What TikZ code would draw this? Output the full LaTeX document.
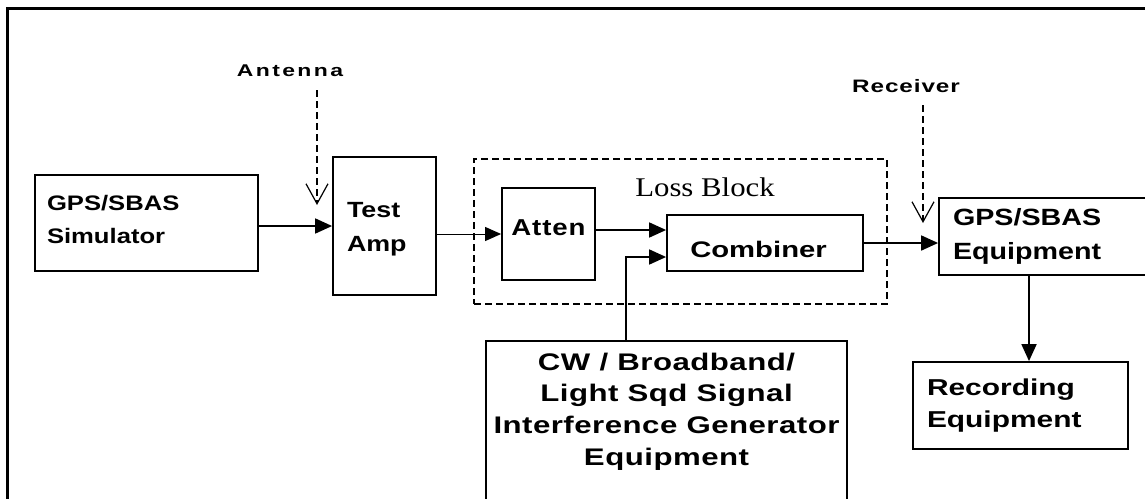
\documentclass[tikz,border=0pt]{standalone}
\usepackage{fontspec}
\setmainfont{Liberation Serif}
\newfontfamily\serifS{Liberation Serif}[FakeStretch=1.14]
\newfontfamily\sA{Liberation Sans}[FakeStretch=1.22]
\newfontfamily\sB{Liberation Sans}[FakeStretch=1.3]
\newfontfamily\sE{Liberation Sans}[FakeStretch=1.3, LetterSpace=2]
\newfontfamily\sD{Liberation Sans}[FakeStretch=1.2, LetterSpace=4]
\newfontfamily\sC{Liberation Sans}[FakeStretch=1.35, LetterSpace=14]
\newfontfamily\sF{Liberation Sans}[FakeStretch=1.35, LetterSpace=5]
\usetikzlibrary{arrows.meta,calc}
\begin{document}
\begin{tikzpicture}[x=1pt,y=-1pt,
  box/.style={draw, line width=1.8pt, inner sep=0pt},
  conn/.style={line width=1.8pt, -{Triangle[length=17pt,width=15pt]}},
  thinconn/.style={line width=1pt, -{Triangle[length=16pt,width=14pt]}},
  dconn/.style={line width=1.2pt, dash pattern=on 7pt off 4pt, -{Straight Barb[length=20pt,width=22pt]}},
  lossstyle/.style={draw, line width=1.4pt, dash pattern=on 7pt off 4pt, inner sep=0pt}]
\useasboundingbox (0,0) rectangle (1145,498);
\clip (0,0) rectangle (1145,498);
\draw[line width=3pt] (7.5,8.5) rectangle (1175,530);

% labels above
\node[font=\sC\bfseries\fontsize{17}{20}\selectfont] (antlbl) at (290,71) {Antenna};
\node[font=\sF\bfseries\fontsize{18}{20}\selectfont] (reclbl) at (906,86.5) {Receiver};

% loss block
\node[lossstyle, minimum width=413pt, minimum height=145pt] (loss) at (680.5,231.5) {};
\node[font=\serifS\fontsize{27}{30}\selectfont] (losslbl) at (705,187) {Loss Block};

% boxes
\node[box, minimum width=223pt, minimum height=96pt, text width=199pt, align=left,
      font=\sA\bfseries\fontsize{21}{33}\selectfont] (sim) at (146.5,223)
      {GPS/SBAS\\Simulator\rule[-8pt]{0pt}{0pt}};
\node[box, minimum width=103pt, minimum height=138pt, text width=75pt, align=left,
      font=\sA\bfseries\fontsize{22}{34}\selectfont] (amp) at (384.5,226)
      {\rule{0pt}{22pt}Test\\Amp};
\node[box, minimum width=93pt, minimum height=92pt, text height=10pt, text depth=8pt,
      font=\sD\bfseries\fontsize{23}{26}\selectfont] (atten) at (548.5,234) {Atten};
\node[box, minimum width=196pt, minimum height=56pt, text height=28pt, text depth=0pt,
      font=\sB\bfseries\fontsize{22.5}{26}\selectfont] (comb) at (765,243) {\hspace*{-13pt}Combiner};
\node[box, minimum width=221pt, minimum height=77pt, text width=193pt, align=left,
      font=\sA\bfseries\fontsize{23.5}{34}\selectfont] (equip) at (1049.5,236.5)
      {GPS/SBAS\\Equipment};
\node[box, minimum width=215pt, minimum height=87pt, text width=187pt, align=left,
      font=\sB\bfseries\fontsize{23}{32}\selectfont] (rec) at (1020.5,405.5)
      {Recording\\Equipment};
\node[box, anchor=north, font=\sE\bfseries\fontsize{24}{31.7}\selectfont] (cw) at (666.5,340)
      {\parbox[t][180pt][t]{361pt}{\centering\vspace*{12pt}CW / Broadband/\\Light Sqd Signal\\Interference Generator\\Equipment}};

% connectors
\coordinate (antstart) at (317,90);
\coordinate (antend) at (317,205);
\draw[dconn] (antstart) -- (antend);
\coordinate (rcvstart) at (923,105);
\coordinate (rcvend) at (923,223);
\draw[dconn] (rcvstart) -- (rcvend);

\draw[conn] (sim.east |- amp.west) -- (amp.west);
\draw[thinconn] (amp.east |- atten.west) -- (atten.west);
\coordinate (a2) at ($(atten.east)+(0,-4)$);
\draw[conn] (a2) -- (comb.west |- a2);
\coordinate (cwtap) at ($(cw.north)+(-40.5,0)$);
\coordinate (cbin) at ($(comb.west)+(0,14)$);
\draw[conn] (cwtap) |- (cbin);
\draw[conn] (comb.east) -- (equip.west |- comb.east);
\coordinate (eqtap) at ($(equip.south)+(-20.5,0)$);
\draw[conn] (eqtap) -- (rec.north -| eqtap);
\end{tikzpicture}
\end{document}
